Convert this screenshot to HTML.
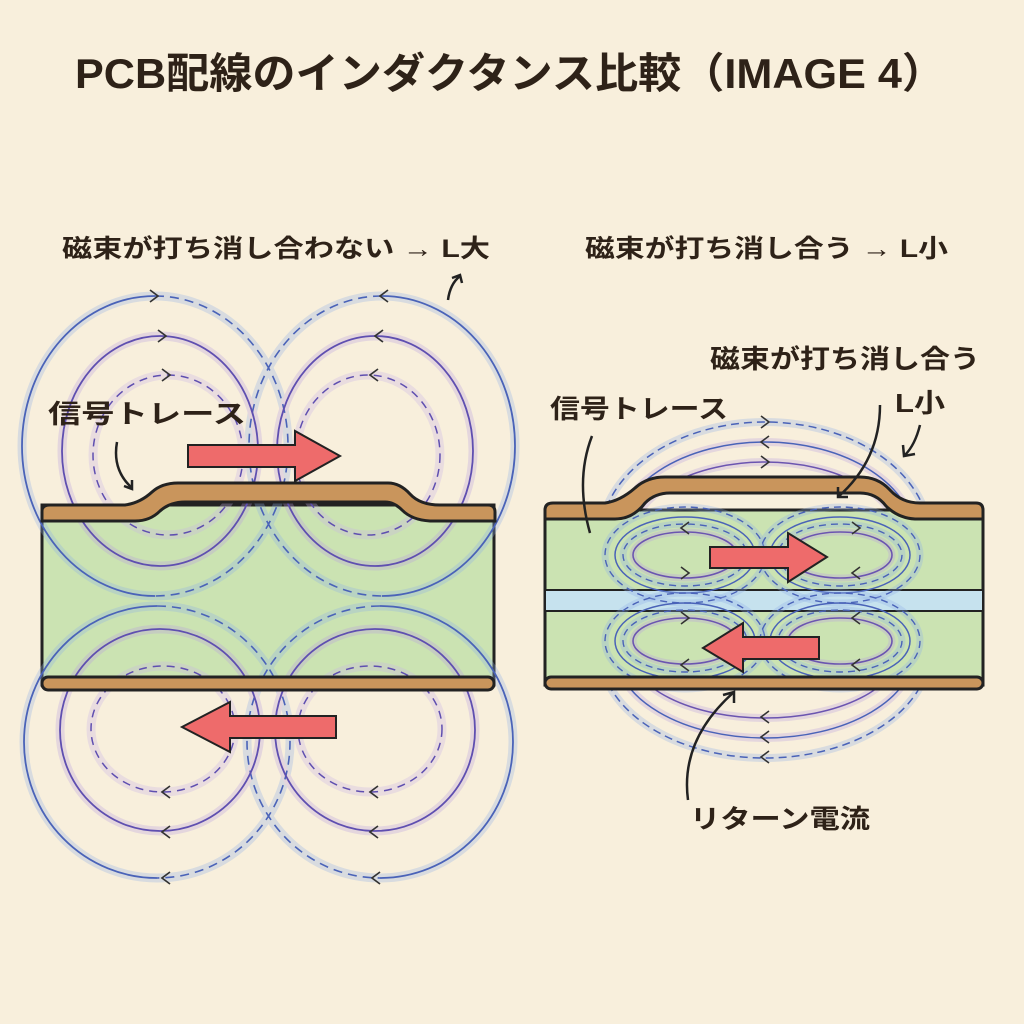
<!DOCTYPE html>
<html><head><meta charset="utf-8"><style>
html,body{margin:0;padding:0;background:#f8efdc;}
svg{display:block}
text{font-family:"Liberation Sans","Noto Sans CJK JP",sans-serif;font-weight:bold;fill:#2e2218}
</style></head><body>
<svg width="1024" height="1024" viewBox="0 0 1024 1024" xmlns="http://www.w3.org/2000/svg">
<rect width="1024" height="1024" fill="#f8efdc"/>
<text x="75" y="88" font-size="42" textLength="870" lengthAdjust="spacingAndGlyphs">PCB配線のインダクタンス比較（IMAGE 4）</text>

<!-- LEFT -->
<g fill="none">
<rect x="42" y="505" width="452" height="180" fill="#cbe3b2" stroke="#222" stroke-width="3"/>
<g stroke-width="9" opacity="0.3">
<ellipse cx="155" cy="446" rx="133" ry="150" stroke="#8fb0e8"/><ellipse cx="382" cy="446" rx="133" ry="150" stroke="#8fb0e8"/>
<ellipse cx="157" cy="742" rx="133" ry="136" stroke="#8fb0e8"/><ellipse cx="380" cy="742" rx="133" ry="136" stroke="#8fb0e8"/>
<ellipse cx="160" cy="451" rx="98" ry="115" stroke="#b99ee0"/><ellipse cx="375" cy="451" rx="98" ry="115" stroke="#b99ee0"/>
<ellipse cx="160" cy="730" rx="100" ry="101" stroke="#b99ee0"/><ellipse cx="375" cy="730" rx="100" ry="101" stroke="#b99ee0"/>
<ellipse cx="168" cy="455" rx="75" ry="80" stroke="#c9b3e8"/><ellipse cx="368" cy="455" rx="72" ry="80" stroke="#c9b3e8"/>
<ellipse cx="163" cy="729" rx="72" ry="63" stroke="#c9b3e8"/><ellipse cx="370" cy="729" rx="72" ry="63" stroke="#c9b3e8"/>
</g>
<g stroke="#4a63b8" stroke-width="1.8">
<path d="M155 296 A133 150 0 0 0 155 596"/><path d="M382 296 A133 150 0 0 1 382 596"/>
<path d="M157 606 A133 136 0 0 0 157 878"/><path d="M380 606 A133 136 0 0 1 380 878"/>
</g>
<g stroke="#4a63b8" stroke-width="1.6" stroke-dasharray="9 6">
<path d="M155 296 A133 150 0 0 1 155 596"/><path d="M382 296 A133 150 0 0 0 382 596"/>
<path d="M157 606 A133 136 0 0 1 157 878"/><path d="M380 606 A133 136 0 0 0 380 878"/>
</g>
<g stroke="#5f4fb0" stroke-width="1.8">
<ellipse cx="160" cy="451" rx="98" ry="115"/><ellipse cx="375" cy="451" rx="98" ry="115"/>
<ellipse cx="160" cy="730" rx="100" ry="101"/><ellipse cx="375" cy="730" rx="100" ry="101"/>
</g>
<g stroke="#5f4fb0" stroke-width="1.5" stroke-dasharray="8 6">
<ellipse cx="168" cy="455" rx="75" ry="80"/><ellipse cx="368" cy="455" rx="72" ry="80"/>
<ellipse cx="163" cy="729" rx="72" ry="63"/><ellipse cx="370" cy="729" rx="72" ry="63"/>
</g>
<g stroke="#333" stroke-width="1.7">
<path d="M150 290l8 6-8 6M158 330l8 6-8 6M162 369l8 6-8 6"/>
<path d="M388 290l-8 6 8 6M383 330l-8 6 8 6M378 369l-8 6 8 6"/>
<path d="M170 786l-8 6 8 6M170 826l-8 6 8 6M170 872l-8 6 8 6"/>
<path d="M378 786l-8 6 8 6M378 826l-8 6 8 6M380 872l-8 6 8 6"/>
</g>
<path d="M42 521 V511 Q42 505 50 505 H125 Q140 503 152 492 Q162 483 178 483 H388 Q400 483 410 494 Q420 505 440 505 H488 Q495 505 495 512 V521 H430 Q412 520 402 510 Q394 502 385 502 H185 Q170 502 160 511 Q150 521 135 521 Z" fill="#c9955c" stroke="#222" stroke-width="3"/>
<rect x="42" y="677" width="452" height="13" rx="6" fill="#c9955c" stroke="#222" stroke-width="3"/>
<path d="M188 445 H295 V431 L340 456 L295 481 V467 H188 Z" fill="#ee6b6b" stroke="#222" stroke-width="2"/>
<path d="M336 716 H230 V702 L182 727 L230 752 V738 H336 Z" fill="#ee6b6b" stroke="#222" stroke-width="2"/>
<path d="M117 442 Q112 470 132 488" stroke="#222" stroke-width="2.5"/><path d="M124 486l8 3 0-9" stroke="#222" stroke-width="2.5"/>
<path d="M448 300 Q450 284 460 276" stroke="#222" stroke-width="2.5"/><path d="M452 278l8-3 2 8" stroke="#222" stroke-width="2.5"/>
</g>
<text x="62" y="257" font-size="25" textLength="428" lengthAdjust="spacingAndGlyphs">磁束が打ち消し合わない → L大</text>
<text x="48" y="423" font-size="26" textLength="198" lengthAdjust="spacingAndGlyphs">信号トレース</text>

<!-- RIGHT -->
<g fill="none">
<g stroke-width="8" opacity="0.3">
<ellipse cx="765" cy="540" rx="165" ry="118" stroke="#8fb0e8"/><ellipse cx="765" cy="540" rx="150" ry="98" stroke="#b99ee0"/><ellipse cx="765" cy="540" rx="135" ry="78" stroke="#b99ee0"/>
<ellipse cx="765" cy="650" rx="165" ry="108" stroke="#8fb0e8"/><ellipse cx="765" cy="650" rx="150" ry="88" stroke="#b99ee0"/><ellipse cx="765" cy="650" rx="135" ry="68" stroke="#b99ee0"/>
</g>
<g stroke-width="1.5">
<ellipse cx="765" cy="540" rx="165" ry="118" stroke="#4a63b8" stroke-dasharray="8 5"/>
<ellipse cx="765" cy="540" rx="150" ry="98" stroke="#4a63b8"/>
<ellipse cx="765" cy="540" rx="135" ry="78" stroke="#6b55b0"/>
<ellipse cx="765" cy="650" rx="165" ry="108" stroke="#4a63b8" stroke-dasharray="8 5"/>
<ellipse cx="765" cy="650" rx="150" ry="88" stroke="#4a63b8"/>
<ellipse cx="765" cy="650" rx="135" ry="68" stroke="#6b55b0"/>
</g>
<rect x="545" y="510" width="438" height="175" fill="#cbe3b2" stroke="#222" stroke-width="3"/>
<rect x="545" y="590" width="438" height="21" fill="#c6e2ee" stroke="#222" stroke-width="2"/>
<g id="sm">
<g stroke-width="7" opacity="0.3">
<ellipse cx="685" cy="555" rx="80" ry="48" stroke="#8fb0e8"/><ellipse cx="685" cy="555" rx="62" ry="31" stroke="#8fb0e8"/><ellipse cx="685" cy="555" rx="52" ry="23" stroke="#b99ee0"/>
</g>
<ellipse cx="685" cy="555" rx="80" ry="48" stroke="#4a63b8" stroke-width="1.4" stroke-dasharray="7 5"/>
<ellipse cx="685" cy="555" rx="70" ry="38" stroke="#4a63b8" stroke-width="1.5"/>
<ellipse cx="685" cy="555" rx="62" ry="31" stroke="#4a63b8" stroke-width="1.4" stroke-dasharray="7 5"/>
<ellipse cx="685" cy="555" rx="52" ry="23" stroke="#6b55b0" stroke-width="1.6"/>
</g>
<use href="#sm" transform="translate(155,0)"/>
<use href="#sm" transform="translate(0,86)"/>
<use href="#sm" transform="translate(155,86)"/>
<g stroke="#333" stroke-width="1.6">
<path d="M761 416l8 6-8 6M769 436l-8 6 8 6M761 456l8 6-8 6"/>
<path d="M689 522l-8 6 8 6M681 567l8 6-8 6M852 522l8 6-8 6M860 567l-8 6 8 6"/>
<path d="M681 612l8 6-8 6M689 659l-8 6 8 6M860 612l-8 6 8 6M860 659l-8 6 8 6"/>
<path d="M769 711l-8 6 8 6M769 731l-8 6 8 6M769 751l-8 6 8 6"/>
</g>
<path d="M545 519 V510 Q545 503 553 503 H605 Q620 501 635 488 Q647 477 665 477 H860 Q878 477 890 490 Q902 503 920 503 H976 Q983 503 983 510 V519 H915 Q898 518 886 506 Q876 493 860 493 H670 Q655 493 645 503 Q633 519 615 519 Z" fill="#c9955c" stroke="#222" stroke-width="3"/>
<rect x="545" y="677" width="438" height="12" rx="6" fill="#c9955c" stroke="#222" stroke-width="3"/>
<path d="M710 547 H788 V533 L827 557 L788 582 V568 H710 Z" fill="#ee6b6b" stroke="#222" stroke-width="2"/>
<path d="M819 637 H743 V623 L703 648 L743 672 V659 H819 Z" fill="#ee6b6b" stroke="#222" stroke-width="2"/>
<g stroke="#222" stroke-width="2.5">
<path d="M592 436 Q575 480 590 533"/>
<path d="M880 405 Q880 460 838 497"/><path d="M838 487l0 10 10 0"/>
<path d="M920 425 Q915 445 905 455"/><path d="M903 445l1 11 11-2"/>
<path d="M688 800 Q680 740 734 692"/><path d="M723 695l11-3 0 11"/>
</g>
</g>
<text x="585" y="257" font-size="25" textLength="363" lengthAdjust="spacingAndGlyphs">磁束が打ち消し合う → L小</text>
<text x="710" y="368" font-size="26" textLength="270" lengthAdjust="spacingAndGlyphs">磁束が打ち消し合う</text>
<text x="895" y="412" font-size="26" textLength="50" lengthAdjust="spacingAndGlyphs">L小</text>
<text x="550" y="418" font-size="26" textLength="178" lengthAdjust="spacingAndGlyphs">信号トレース</text>
<text x="690" y="828" font-size="26" textLength="180" lengthAdjust="spacingAndGlyphs">リターン電流</text>
</svg>
</body></html>
